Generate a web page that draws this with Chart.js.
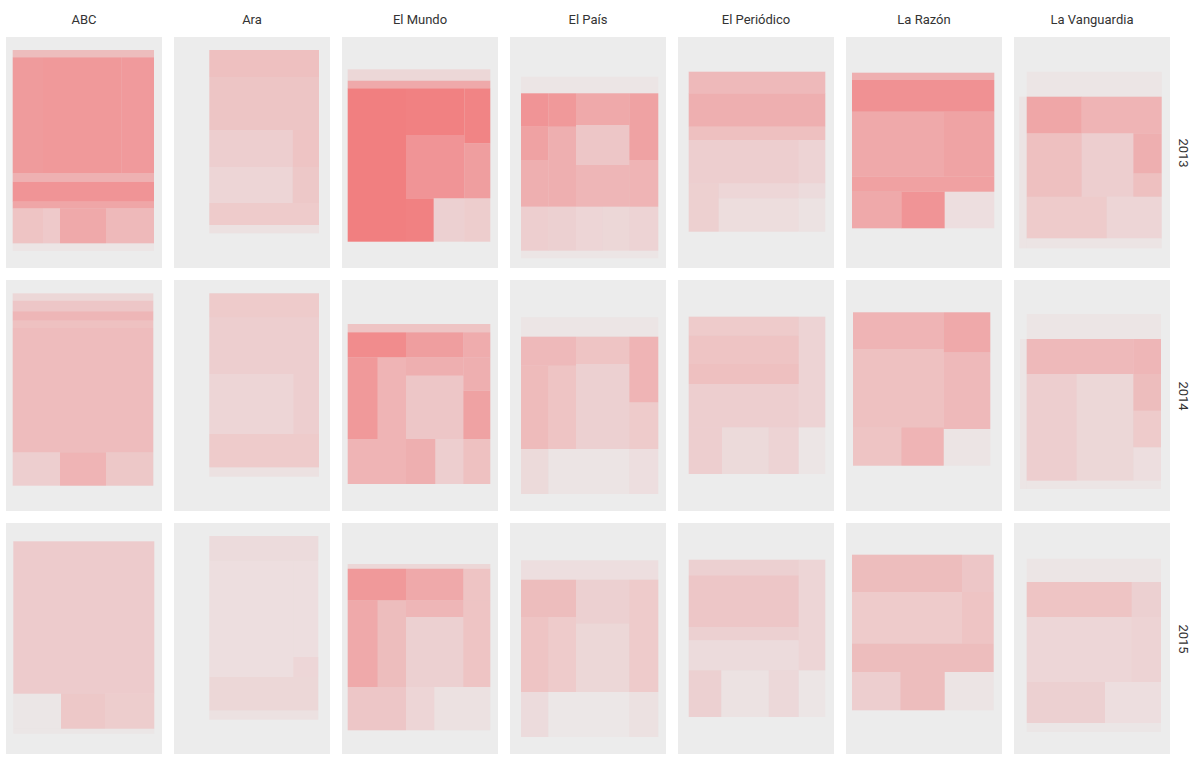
<!DOCTYPE html>
<html>
<head>
<meta charset="utf-8">
<script src="https://cdn.jsdelivr.net/npm/chart.js@4/dist/chart.umd.min.js"></script>
<style>
  body { margin: 0; background: #fff; width: 1200px; height: 764px; position: relative; overflow: hidden; font-family: Roboto, "Noto Sans", sans-serif; }
  .panel { position: absolute; }
  .strip-x { position: absolute; top: 12px; width: 156px; text-align: center; font-size: 13px; color: #333; line-height: 16px; }
  .strip-y { position: absolute; left: 1163px; width: 40px; text-align: center; font-size: 13px; color: #333; line-height: 16px; transform: rotate(90deg); }
</style>
</head>
<body>
<script>
// newspapers (columns) and years (rows)
const papers = ['ABC', 'Ara', 'El Mundo', 'El País', 'El Periódico', 'La Razón', 'La Vanguardia'];
const years = ['2013', '2014', '2015'];

// ad density tiles per page: [x0, x1, y0, y1, share]  (page units, y from top)
const abc2013 = [[6.7,148,13,20.3,0.35],[6.7,37,20.3,136.3,0.6],[37,115.7,20.3,136.3,0.62],[115.7,148,20.3,136.3,0.61],
  [6.7,148,136.3,144.7,0.44],[6.7,148,144.7,164.7,0.65],[6.7,148,164.7,171.3,0.52],[6.7,37,171.3,206.3,0.3],
  [37,54,171.3,206.3,0.26],[54,100,171.3,206.3,0.5],[100,148,171.3,206.3,0.38],[6.7,148,206.3,214,0.05]];
const ara2013 = [[35.3,145,13,40,0.33],[35.3,145,40,93,0.29],[35.3,118.7,93,130,0.22],[118.7,145,93,130,0.3],
  [35.3,118.7,130,166,0.17],[118.7,145,130,166,0.27],[35.3,145,166,188,0.25],[35.3,145,188,196.3,0.08]];
const elmundo2013 = [[5.7,148.3,32.3,43.7,0.15],[5.7,148.3,43.7,51.3,0.5],[5.7,64,51.3,204.7,0.82],[64,122.3,51.3,98,0.8],
  [122.3,148.3,51.3,106.3,0.78],[64,122.3,98,161.3,0.65],[122.3,148.3,106.3,161.3,0.58],[64,91.7,161.3,204.7,0.8],
  [91.7,122.3,161.3,204.7,0.2],[122.3,148.3,161.3,204.7,0.23]];
const elpais2013 = [[11,148.3,39.7,56.3,0.05],[11,38.3,56.3,89.7,0.65],[38.3,66,56.3,89.7,0.62],[11,38.3,89.7,123,0.55],
  [11,38.3,123,169.7,0.45],[38.3,66,89.7,169.7,0.45],[66,119.3,56.3,88,0.5],[66,119.3,88,128,0.28],[66,119.3,128,169.7,0.4],
  [119.3,148.3,56.3,123,0.55],[119.3,148.3,123,169.7,0.42],[11,38.3,169.7,213.7,0.22],[38.3,66,169.7,213.7,0.2],
  [66,92.7,169.7,213.7,0.17],[92.7,119.3,169.7,213.7,0.15],[119.3,148.3,169.7,213.7,0.18],[11,148.3,213.7,221.3,0.05]];
const elperiodico2013 = [[10.7,147.3,34.7,56.3,0.38],[10.7,147.3,56.3,89.7,0.45],[10.7,147.3,89.7,103,0.33],
  [10.7,120.7,103,146.3,0.22],[120.7,147.3,103,146.3,0.18],[10.7,40.7,146.3,194.7,0.21],[40.7,120.7,146.3,161.3,0.16],
  [120.7,147.3,146.3,161.3,0.12],[40.7,120.7,161.3,194.7,0.11],[120.7,147.3,161.3,194.7,0.07]];
const larazon2013 = [[6,148.3,35.7,43,0.45],[6,148.3,43,74.7,0.68],[6,98,74.7,139.7,0.5],[98,148.3,74.7,139.7,0.54],
  [6,148.3,139.7,154.7,0.56],[6,55.3,154.7,191.3,0.5],[55.3,98.7,154.7,191.3,0.65],[98.7,148.3,154.7,191.3,0.1]];
const lavanguardia2013 = [[12.7,147.7,34.7,59.7,0.05],[5.3,12.7,59.7,211.3,0.06],[12.7,67.7,59.7,96.3,0.52],
  [67.7,147.7,59.7,96.3,0.42],[12.7,67.7,96.3,159.7,0.33],[67.7,119.3,96.3,159.7,0.22],[119.3,147.7,96.3,136.3,0.45],
  [119.3,147.7,136.3,159.7,0.33],[12.7,92.7,159.7,201.3,0.25],[92.7,147.7,159.7,201.3,0.17],[12.7,147.7,201.3,211.3,0.06]];

const abc2014 = [[6.7,147.3,13.3,20.7,0.15],[6.7,147.3,20.7,31.3,0.28],[6.7,147.3,31.3,40.7,0.4],[6.7,147.3,40.7,48,0.32],
  [6.7,147.3,48,172.3,0.36],[6.7,54,172.3,205.7,0.22],[54,100,172.3,205.7,0.42],[100,147.3,172.3,205.7,0.27]];
const ara2014 = [[35.3,145,13.3,37.3,0.25],[35.3,145,37.3,94,0.22],[35.3,119.3,94,154,0.17],[119.3,145,94,154,0.22],
  [35.3,145,154,187.3,0.25],[35.3,145,187.3,196.7,0.08]];
const elmundo2014 = [[5.7,148.3,44,52.3,0.3],[5.7,64,52.3,77.3,0.72],[64,121.3,52.3,77.3,0.58],[121.3,148.3,52.3,77.3,0.48],
  [5.7,35.7,77.3,159,0.62],[35.7,64,77.3,159,0.42],[64,121.3,77.3,95.7,0.45],[64,121.3,95.7,159,0.28],
  [121.3,148.3,77.3,110.7,0.45],[121.3,148.3,110.7,159,0.55],[5.7,64,159,204,0.42],[64,93.3,159,204,0.45],
  [93.3,121.3,159,204,0.22],[121.3,148.3,159,204,0.32]];
const elpais2014 = [[11,148.3,37.3,56.7,0.05],[11,66,56.7,85.7,0.38],[11,38.3,85.7,169,0.37],[38.3,66,85.7,169,0.3],
  [66,119.3,56.7,84,0.3],[66,119.3,84,169,0.2],[119.3,148.3,56.7,122.3,0.42],[119.3,148.3,122.3,169,0.25],
  [11,38.3,169,214,0.13],[38.3,119.3,169,214,0.06],[119.3,148.3,169,214,0.1]];
const elperiodico2014 = [[10.7,120.7,36.7,55.7,0.25],[10.7,120.7,55.7,84,0.3],[10.7,120.7,84,104,0.33],
  [10.7,120.7,104,147.3,0.22],[120.7,147.3,36.7,147.3,0.18],[10.7,44,147.3,194,0.22],[44,90.7,147.3,194,0.13],
  [90.7,120.7,147.3,194,0.18],[120.7,147.3,147.3,194,0.05]];
const larazon2014 = [[7,97.7,32.3,69,0.42],[97.7,144.3,32.3,72.3,0.5],[7,97.7,69,147.3,0.32],[97.7,144.3,72.3,149,0.38],
  [7,55.3,147.3,185.7,0.3],[55.3,97.7,147.3,185.7,0.42],[97.7,144.3,149,185.7,0.06]];
const lavanguardia2014 = [[12.7,147,34,59,0.05],[6,12.7,59,209,0.05],[12.7,119.3,59,94,0.38],[119.3,147,59,94,0.4],
  [12.7,62.7,94,200.7,0.22],[62.7,119.3,94,200.7,0.15],[119.3,147,94,130.7,0.35],[119.3,147,130.7,167.3,0.25],
  [119.3,147,167.3,200.7,0.1],[12.7,147,200.7,209,0.05]];

const abc2015 = [[7.3,148.3,18.3,170.7,0.24],[7.3,55,170.7,205.7,0.04],[55,99,170.7,205.7,0.27],[99,148.3,170.7,205.7,0.23],
  [7.3,148.3,205.7,210.7,0.04]];
const ara2015 = [[35.3,144.3,13,37.3,0.12],[35.3,119.3,37.3,154,0.1],[119.3,144.3,37.3,134,0.1],[119.3,144.3,134,154,0.16],
  [35.3,144.3,154,187.3,0.15],[35.3,144.3,187.3,196.7,0.08]];
const elmundo2015 = [[5.7,148.3,41,45.7,0.15],[5.7,64,45.7,77.3,0.62],[64,121.3,45.7,77.3,0.5],[121.3,148.3,45.7,77.3,0.3],
  [5.7,35.7,77.3,164,0.5],[35.7,64,77.3,164,0.35],[64,121.3,77.3,94,0.4],[64,121.3,94,164,0.2],[121.3,148.3,77.3,164,0.3],
  [5.7,64,164,207.3,0.28],[64,92.3,164,207.3,0.17],[92.3,148.3,164,207.3,0.08]];
const elpais2015 = [[11,148.3,37.3,56.7,0.1],[11,66,56.7,94,0.35],[11,38.3,94,169,0.3],[38.3,66,94,169,0.25],
  [66,119.3,56.7,100.7,0.2],[66,119.3,100.7,169,0.15],[119.3,148.3,56.7,169,0.25],[11,38.3,169,214,0.12],
  [38.3,119.3,169,214,0.03],[119.3,148.3,169,214,0.08]];
const elperiodico2015 = [[10.7,120.7,36.7,52.3,0.2],[10.7,120.7,52.3,104,0.28],[10.7,120.7,104,117.3,0.2],
  [10.7,120.7,117.3,147.3,0.12],[120.7,147.3,36.7,147.3,0.17],[10.7,43.3,147.3,194,0.2],[43.3,90.7,147.3,194,0.07],
  [90.7,120.7,147.3,194,0.14],[120.7,147.3,147.3,194,0.05]];
const larazon2015 = [[6,116,31.7,69,0.35],[116,147.7,31.7,69,0.28],[6,116,69,120.7,0.25],[116,147.7,69,120.7,0.3],
  [6,147.7,120.7,149,0.35],[6,54.3,149,187.3,0.22],[54.3,98.7,149,187.3,0.35],[98.7,147.7,149,187.3,0.06]];
const lavanguardia2015 = [[12.7,147,35.7,59,0.05],[12.7,117.7,59,94,0.3],[117.7,147,59,94,0.2],[12.7,117.7,94,159,0.16],
  [117.7,147,94,159,0.18],[12.7,91,159,200,0.2],[91,147,159,200,0.1],[12.7,147,200,209,0.04]];

const grid = [
  [abc2013, ara2013, elmundo2013, elpais2013, elperiodico2013, larazon2013, lavanguardia2013],
  [abc2014, ara2014, elmundo2014, elpais2014, elperiodico2014, larazon2014, lavanguardia2014],
  [abc2015, ara2015, elmundo2015, elpais2015, elperiodico2015, larazon2015, lavanguardia2015]
];

const PAGE_W = 156, PAGE_H = 231;

// draws the tiles as rectangles through the chart's x / y scales
const tilePlugin = {
  id: 'tiles',
  beforeDatasetsDraw(chart, args, opts) {
    const { ctx, chartArea, scales: { x, y } } = chart;
    ctx.save();
    ctx.fillStyle = '#ECECEC';
    ctx.fillRect(chartArea.left, chartArea.top, chartArea.width, chartArea.height);
    opts.rects.forEach(r => {
      const px0 = x.getPixelForValue(r[0]), px1 = x.getPixelForValue(r[1]);
      const py0 = y.getPixelForValue(r[2]), py1 = y.getPixelForValue(r[3]);
      ctx.fillStyle = `rgba(242, 102, 104, ${r[4]})`;
      ctx.fillRect(px0, py0, px1 - px0, py1 - py0);
    });
    ctx.restore();
  }
};

years.forEach((year, row) => {
  papers.forEach((paper, col) => {
    const left = 6 + col * 168, top = 37 + row * 243;
    const canvas = document.createElement('canvas');
    canvas.className = 'panel';
    canvas.width = PAGE_W; canvas.height = PAGE_H;
    canvas.style.left = left + 'px';
    canvas.style.top = top + 'px';
    canvas.style.width = PAGE_W + 'px';
    canvas.style.height = PAGE_H + 'px';
    document.body.appendChild(canvas);
    new Chart(canvas.getContext('2d'), {
      type: 'scatter',
      data: { datasets: [{ data: [], pointRadius: 0 }] },
      options: {
        responsive: false,
        animation: false,
        devicePixelRatio: 1,
        layout: { padding: 0 },
        scales: {
          x: { type: 'linear', min: 0, max: PAGE_W, display: false },
          y: { type: 'linear', min: 0, max: PAGE_H, reverse: true, display: false }
        },
        plugins: { legend: { display: false }, tooltip: { enabled: false }, tiles: { rects: grid[row][col] } }
      },
      plugins: [tilePlugin]
    });
    if (row === 0) {
      const s = document.createElement('div');
      s.className = 'strip-x';
      s.style.left = left + 'px';
      s.textContent = paper;
      document.body.appendChild(s);
    }
  });
  const s = document.createElement('div');
  s.className = 'strip-y';
  s.style.top = (37 + row * 243 + PAGE_H / 2 - 8) + 'px';
  s.textContent = year;
  document.body.appendChild(s);
});
</script>
</body>
</html>
